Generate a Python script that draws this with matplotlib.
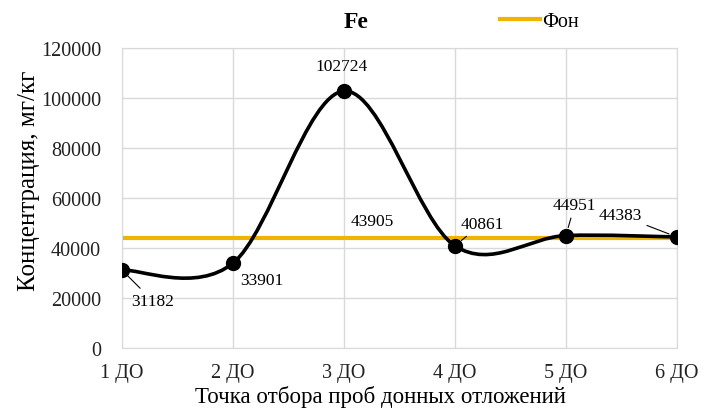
import numpy as np
import matplotlib
matplotlib.use('Agg')
import matplotlib.pyplot as plt
from matplotlib.path import Path
from matplotlib import patches

plt.rcParams['font.family'] = ['Liberation Serif', 'DejaVu Serif']

# данные
points = ["1 ДО", "2 ДО", "3 ДО", "4 ДО", "5 ДО", "6 ДО"]
fe_values = [31182, 33901, 102724, 40861, 44951, 44383]
background = 43905

# смещения подписей (пиксели) и нужна ли выноска
label_offsets = [(31, -31), (29, -17), (-2, 25), (27, 22), (9, 31), (-57, 22)]
label_leader = [True, False, False, True, True, True]


def smooth_path(x, y):
    # сглаживание как в Excel (Катмулл-Ром -> кривые Безье)
    pts = np.column_stack([x, y]).astype(float)
    n = len(pts)
    verts = [pts[0]]
    codes = [Path.MOVETO]
    for i in range(n - 1):
        p0 = pts[i - 1] if i > 0 else pts[i]
        p1 = pts[i]
        p2 = pts[i + 1]
        p3 = pts[i + 2] if i + 2 < n else pts[i + 1]
        c1 = p1 + (p2 - p0) / 6
        c2 = p2 - (p3 - p1) / 6
        verts += [c1, c2, p2]
        codes += [Path.CURVE4] * 3
    return Path(verts, codes)


fig = plt.figure(figsize=(7.17, 4.14), dpi=100)
ax = fig.add_axes([0.170, 0.157, 0.774, 0.725])

xs = np.arange(len(points))

ax.axhline(background, color='#F0B400', lw=3, zorder=2, label='Фон')
ax.add_patch(patches.PathPatch(smooth_path(xs, fe_values), fill=False,
                               edgecolor='black', lw=2.6, zorder=3))
ax.plot(xs, fe_values, 'o', color='black', markersize=10, zorder=4)

for i, v in enumerate(fe_values):
    arrow = dict(arrowstyle='-', color='black', lw=0.8, shrinkA=2, shrinkB=6) if label_leader[i] else None
    ax.annotate(str(v), xy=(xs[i], v), xytext=label_offsets[i], textcoords='offset pixels',
                ha='center', va='center', fontsize=12.5, arrowprops=arrow, zorder=5)

ax.annotate(str(background), xy=(2, background), xytext=(28, 17), textcoords='offset pixels',
            ha='center', va='center', fontsize=12.5)

ax.set_xlim(0, len(points) - 1)
ax.set_ylim(0, 120000)
ax.set_yticks(np.arange(0, 120001, 20000))
ax.set_xticks(xs)
ax.set_xticklabels(points)
ax.tick_params(length=0, labelsize=14.5, colors='#222222')
ax.tick_params(axis='y', pad=15)
ax.tick_params(axis='x', pad=11)
ax.grid(True, color='#d9d9d9', lw=1)
for s in ax.spines.values():
    s.set_color('#d9d9d9')

ax.set_xlabel("Точка отбора проб донных отложений", fontsize=16.5, va='center')
ax.set_ylabel("Концентрация, мг/кг", fontsize=18, va='center')
ax.xaxis.set_label_coords(0.465, -0.16)
ax.yaxis.set_label_coords(-0.168, 0.56)
fig.text(0.497, 0.945, "Fe", fontsize=17, fontweight='bold', ha='center', va='center')
fig.legend(loc='center', bbox_to_anchor=(0.752, 0.945), frameon=False, fontsize=14.5,
           handlelength=2.0, handletextpad=0.1)

fig.savefig('out.png', dpi=100)
